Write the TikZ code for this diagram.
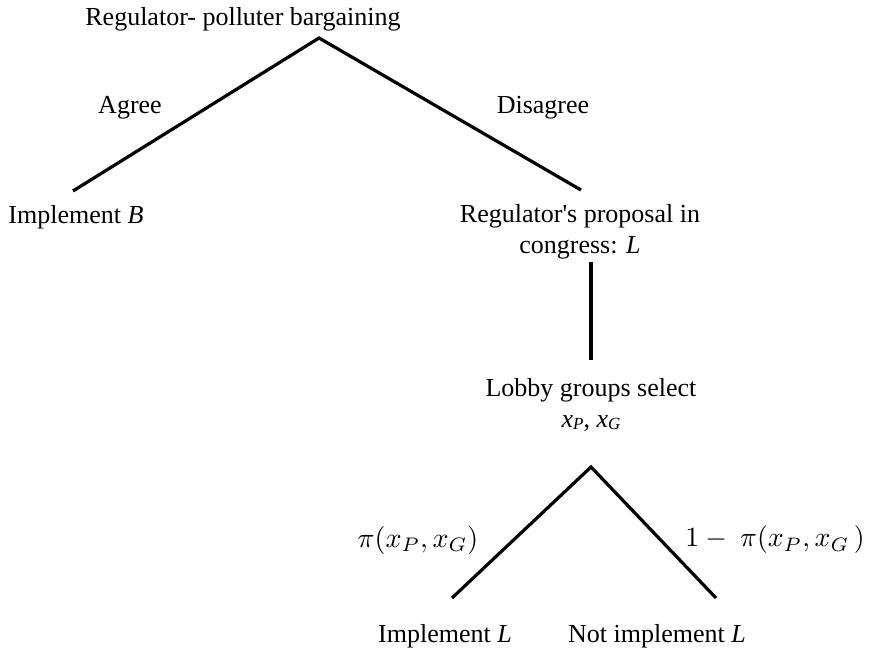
\documentclass[tikz,border=0pt]{standalone}
\usepackage{fontspec}
\setmainfont{Liberation Serif}
\begin{document}
\begin{tikzpicture}[x=1pt,y=-1pt,
  lbl/.style={inner sep=0pt, font=\fontsize{26}{31}\selectfont, align=center},
  mlbl/.style={inner sep=0pt, font=\fontsize{10}{12}\selectfont},
  edge/.style={line width=3.2pt}]
\useasboundingbox (0,0) rectangle (887,655);
% junction points
\coordinate (root) at (319,38);
\coordinate (agreeEnd) at (73,191);
\coordinate (disEnd) at (581,190);
\coordinate (propTop) at (591,262);
\coordinate (propBot) at (591,360);
\coordinate (chance) at (591,467);
\coordinate (implEnd) at (452,598);
\coordinate (notEnd) at (716,598);
% edges
\draw[edge] (agreeEnd) -- (root) -- (disEnd);
\draw[edge] (propTop) -- (propBot);
\draw[edge] (implEnd) -- (chance) -- (notEnd);
% labels
\node[lbl] (title) at (243,19) {Regulator- polluter bargaining};
\node[lbl] (agree) at (130,108) {Agree};
\node[lbl] (disagree) at (543,108) {Disagree};
\node[lbl] (implB) at (76,217) {Implement \textit{B}};
\node[lbl] (prop) at (580,232) {Regulator\textquotesingle s proposal in\\congress: \textit{L}};
\node[lbl] (lobby) at (591,405) {Lobby groups select\\\textit{x\raisebox{-0.2ex}{\fontsize{17}{20}\selectfont P}}, \textit{x\raisebox{-0.2ex}{\fontsize{17}{20}\selectfont G}}};
\node[mlbl] (pi) at (418,540) {\scalebox{2.8}{$\pi(x_P,x_G)$}};
\node[mlbl] (onepi) at (775,540) {\scalebox{2.78}{$1-\ \pi(x_P,x_G\,)$}};
\node[lbl] (implL) at (445,636) {Implement \textit{L}};
\node[lbl] (notL) at (657,636) {Not implement \textit{L}};
\end{tikzpicture}
\end{document}
